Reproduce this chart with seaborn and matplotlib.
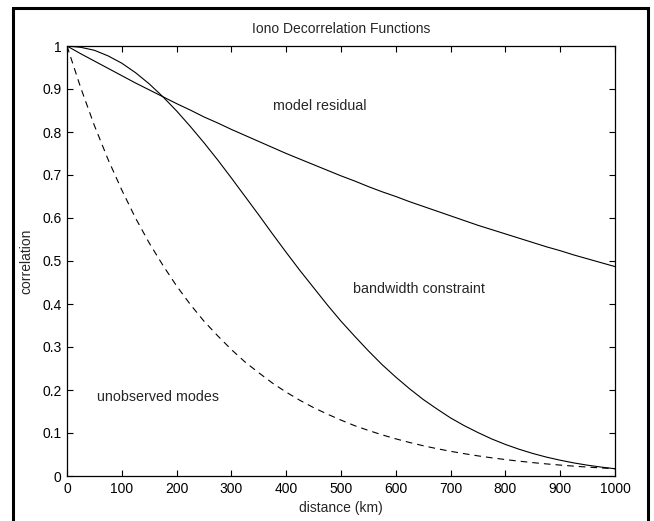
import numpy as np
import pandas as pd
import seaborn as sns
import matplotlib
matplotlib.use("Agg")
import matplotlib.pyplot as plt
from matplotlib.patches import Rectangle

dist = list(range(0, 1001, 25))
# model residual (solid, slow decay)
model_resid = [1.000, 0.982, 0.965, 0.948, 0.931, 0.914, 0.898, 0.882, 0.866,
               0.851, 0.835, 0.821, 0.806, 0.792, 0.778, 0.764, 0.750, 0.737,
               0.724, 0.711, 0.698, 0.686, 0.673, 0.661, 0.650, 0.638, 0.627,
               0.616, 0.605, 0.594, 0.583, 0.573, 0.563, 0.553, 0.543, 0.533,
               0.524, 0.514, 0.505, 0.496, 0.487]
# bandwidth constraint (solid, bell shaped)
bandwidth = [1.000, 0.997, 0.990, 0.977, 0.960, 0.938, 0.912, 0.882, 0.849,
             0.813, 0.775, 0.735, 0.693, 0.650, 0.607, 0.563, 0.520, 0.478,
             0.438, 0.398, 0.360, 0.325, 0.291, 0.259, 0.230, 0.203, 0.178,
             0.156, 0.135, 0.117, 0.101, 0.0862, 0.0734, 0.0622, 0.0524,
             0.0439, 0.0367, 0.0304, 0.0251, 0.0207, 0.0169]
# unobserved modes (dashed)
unobserved = [1.000, 0.903, 0.815, 0.736, 0.665, 0.600, 0.542, 0.490, 0.442,
              0.399, 0.360, 0.326, 0.294, 0.265, 0.240, 0.216, 0.195, 0.176,
              0.159, 0.144, 0.130, 0.117, 0.106, 0.0957, 0.0864, 0.0780,
              0.0704, 0.0636, 0.0574, 0.0519, 0.0468, 0.0423, 0.0382, 0.0345,
              0.0311, 0.0281, 0.0254, 0.0229, 0.0207, 0.0187, 0.0169]

df = pd.DataFrame({"distance": dist, "model": model_resid,
                   "bandwidth": bandwidth, "unobserved": unobserved})

sns.set_style("ticks")
plt.rcParams['font.family'] = ['Liberation Sans', 'DejaVu Sans']
plt.rcParams['font.size'] = 10
plt.rcParams['xtick.direction'] = 'in'
plt.rcParams['ytick.direction'] = 'in'

fig = plt.figure(figsize=(6.54, 5.21), dpi=100)
ax = fig.add_axes([67/654, 45/521, 548/654, 430/521])

sns.lineplot(data=df, x="distance", y="model", color="k", lw=0.8, ax=ax)
sns.lineplot(data=df, x="distance", y="bandwidth", color="k", lw=0.8, ax=ax)
sns.lineplot(data=df, x="distance", y="unobserved", color="k", lw=0.8,
             linestyle=(0, (6, 4.5)), ax=ax)

ax.set_xlim(0, 1000)
ax.set_ylim(0, 1)
ax.set_xticks(np.arange(0, 1001, 100))
ax.set_yticks(np.arange(0, 1.01, 0.1))
ax.set_yticklabels(["0", "0.1", "0.2", "0.3", "0.4", "0.5", "0.6", "0.7",
                    "0.8", "0.9", "1"])
ax.tick_params(top=True, right=True, length=4, width=0.8, pad=4,
               labelsize=10, colors="k")
for s in ax.spines.values():
    s.set_linewidth(0.9)
    s.set_color("k")

ax.set_xlabel("distance (km)")
ax.set_ylabel("correlation")
ax.xaxis.set_label_coords(0.5, -0.058)
ax.yaxis.set_label_coords(-0.062, 0.5)
ax.set_title("Iono Decorrelation Functions", y=1.0395, va="center", pad=0,
             fontsize=10)

ax.text(376, 0.86, "model residual", va="center", fontsize=10.3)
ax.text(521, 0.434, "bandwidth constraint", va="center", fontsize=10.3)
ax.text(55, 0.184, "unobserved modes", va="center", fontsize=10.3)

# outer frame round the whole figure
fig.patches.append(Rectangle((13.3/654, -0.05), (648 - 13.3)/654,
                             (521 - 8)/521 + 0.05, transform=fig.transFigure,
                             fill=False, lw=2.2, ec="k"))

fig.savefig("out.png", dpi=100)
